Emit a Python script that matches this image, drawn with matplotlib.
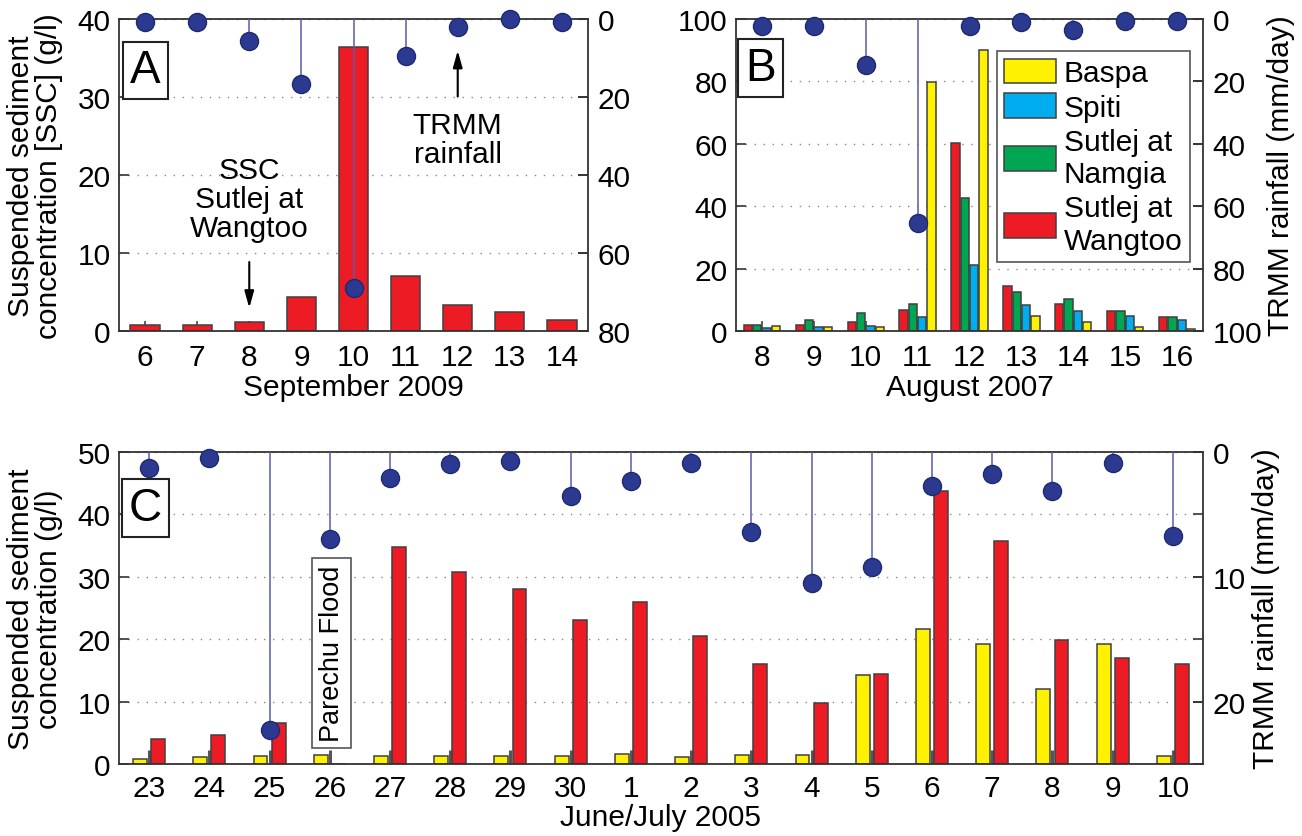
import numpy as np
import matplotlib
matplotlib.use("Agg")
import matplotlib.pyplot as plt

plt.rcParams['font.family'] = ['Liberation Sans', 'DejaVu Sans']

# ---- data: panel A (September 2009) ----
a_days = [6, 7, 8, 9, 10, 11, 12, 13, 14]
a_ssc = [0.8, 0.8, 1.2, 4.4, 36.4, 7.0, 3.3, 2.5, 1.4]
a_rain = [0.7, 0.7, 5.6, 16.7, 69.0, 9.4, 2.1, 0.0, 0.7]

# ---- data: panel B (August 2007) ----
b_days = [8, 9, 10, 11, 12, 13, 14, 15, 16]
b_wangtoo = [1.8, 2.0, 2.9, 6.8, 60.1, 14.4, 8.6, 6.3, 4.5]
b_namgia = [2.0, 3.5, 5.8, 8.6, 42.5, 12.6, 10.2, 6.3, 4.5]
b_spiti = [1.1, 1.4, 1.7, 4.6, 21.0, 8.3, 6.4, 4.7, 3.6]
b_baspa = [1.6, 1.4, 1.4, 79.9, 90.1, 4.9, 3.0, 1.3, 0.7]
b_rain = [2.1, 2.1, 14.8, 65.5, 2.4, 1.1, 3.4, 0.5, 0.6]

# ---- data: panel C (June/July 2005) ----
c_labels = ['23', '24', '25', '26', '27', '28', '29', '30', '1', '2',
            '3', '4', '5', '6', '7', '8', '9', '10']
c_baspa = [0.8, 1.2, 1.3, 1.4, 1.3, 1.3, 1.3, 1.3, 1.6, 1.2,
           1.4, 1.5, 14.2, 21.6, 19.2, 12.0, 19.2, 1.3]
c_wangtoo = [4.0, 4.7, 6.5, 0.0, 34.7, 30.8, 28.1, 23.0, 25.9, 20.5,
             16.0, 9.8, 14.4, 43.7, 35.8, 19.9, 17.0, 16.0]
c_rain = [1.3, 0.5, 22.3, 7.0, 2.1, 1.0, 0.7, 3.5, 2.3, 0.9,
          6.4, 10.5, 9.2, 2.75, 1.8, 3.1, 0.9, 6.7]

RED = '#ed1c24'
YEL = '#fff200'
BLU = '#00aeef'
GRN = '#00a651'
EDGE = '#404040'
DOT = '#2b3990'
STEM = '#5b5bb0'
FS = 21.5

fig = plt.figure(figsize=(13.02, 8.37), dpi=100)
W, H = 1302.0, 837.0


def make_axes(l, t, r, b):
    return fig.add_axes([l / W, 1 - b / H, (r - l) / W, (b - t) / H])


def style(ax, ax2):
    ax.set_axisbelow(True)
    ax.yaxis.grid(True, linestyle=(0, (1, 5.5)), color='#888888', lw=1)
    for sp in ax.spines.values():
        sp.set_color('#333333')
        sp.set_linewidth(1.3)
    for sp in ax2.spines.values():
        sp.set_visible(False)
    ax.tick_params(axis='x', direction='in', length=7, width=1.3,
                   color='#555555', labelsize=FS, pad=9)
    ax.tick_params(axis='y', direction='in', length=7, width=1.2,
                   color='#333333', labelsize=FS, pad=6, right=True)
    ax2.tick_params(axis='y', direction='in', length=7, width=1.2,
                    color='#333333', labelsize=FS, pad=7)
    ax2.tick_params(axis='x', bottom=False, labelbottom=False)


def rain(ax2, x, vals):
    ax2.vlines(x, 0, vals, color=STEM, lw=1.1, zorder=3)
    ax2.plot(x, vals, 'o', ms=13, mfc=DOT, mec='#1e2a70', mew=1,
             clip_on=False, zorder=4)


def panel_label(ax, x, y, s):
    ax.text(x, y, s, transform=ax.transAxes, fontsize=33, ha='center',
            va='center', zorder=6,
            bbox=dict(boxstyle='square,pad=0.15', fc='white',
                      ec='#222222', lw=1.5))


def arrow(ax, x, y0, y1):
    ax.annotate('', xy=(x, y1), xytext=(x, y0),
                arrowprops=dict(arrowstyle='-|>,head_length=1.0,head_width=0.28',
                                color='black', lw=1.5), zorder=5)


bar_kw = dict(edgecolor=EDGE, linewidth=1.1)

# ---------------- panel A ----------------
axA = make_axes(119, 20, 588, 332)
axA.bar(a_days, a_ssc, width=0.56, color=RED, **bar_kw)
axA.set_xlim(5.5, 14.5)
axA.set_ylim(0, 40)
axA.set_xticks(a_days)
axA.set_yticks([0, 10, 20, 30, 40])
axA.set_xlabel('September 2009', fontsize=FS, labelpad=1)
axA2 = axA.twinx()
rain(axA2, a_days, a_rain)
axA2.set_ylim(80, 0)
axA2.set_yticks([0, 20, 40, 60, 80])
style(axA, axA2)
panel_label(axA, 0.0565, 0.835, 'A')
arrow(axA, 8, 9.2, 2.6)
axA.text(8, 16.9, 'SSC\nSutlej at\nWangtoo', fontsize=FS, ha='center',
         va='center', linespacing=1.05, zorder=5)
arrow(axA, 12, 29.7, 36.3)
axA.text(12, 24.6, 'TRMM\nrainfall', fontsize=FS, ha='center',
         va='center', linespacing=1.05, zorder=5)
fig.text(35 / W, 1 - 176 / H,
         'Suspended sediment\nconcentration [SSC] (g/l)',
         rotation=90, ha='center', va='center', fontsize=FS, linespacing=1.0)

# ---------------- panel B ----------------
axB = make_axes(736, 20, 1203, 332)
bx = np.array(b_days, dtype=float)
bw = 0.16
hB = axB.bar(bx + 0.27, b_baspa, width=bw, color=YEL, label='Baspa', **bar_kw)
hS = axB.bar(bx + 0.09, b_spiti, width=bw, color=BLU, label='Spiti', **bar_kw)
hN = axB.bar(bx - 0.09, b_namgia, width=bw, color=GRN,
             label='Sutlej at\nNamgia', **bar_kw)
hW = axB.bar(bx - 0.27, b_wangtoo, width=bw, color=RED,
             label='Sutlej at\nWangtoo', **bar_kw)
axB.set_xlim(7.5, 16.5)
axB.set_ylim(0, 100)
axB.set_xticks(b_days)
axB.set_yticks([0, 20, 40, 60, 80, 100])
axB.set_xlabel('August 2007', fontsize=FS, labelpad=1)
axB2 = axB.twinx()
rain(axB2, b_days, b_rain)
axB2.set_ylim(100, 0)
axB2.set_yticks([0, 20, 40, 60, 80, 100])
style(axB, axB2)
panel_label(axB, 0.0525, 0.843, 'B')
leg = axB2.legend(handles=[hB, hS, hN, hW], loc='upper right',
                  bbox_to_anchor=(0.972, 0.897), borderaxespad=0,
                  fontsize=FS, fancybox=False, framealpha=1,
                  edgecolor='#555555', handlelength=1.75, handleheight=0.9,
                  handletextpad=0.25, labelspacing=0.2, borderpad=0.25)
leg.get_frame().set_linewidth(1.2)
leg.set_zorder(10)
fig.text(1281 / W, 1 - 176 / H, 'TRMM rainfall (mm/day)', rotation=90,
         ha='center', va='center', fontsize=FS)

# ---------------- panel C ----------------
axC = make_axes(119, 453, 1203, 765)
cx = np.arange(len(c_labels))
axC.bar(cx - 0.15, c_baspa, width=0.23, color=YEL, **bar_kw)
axC.bar(cx + 0.15, c_wangtoo, width=0.23, color=RED, **bar_kw)
axC.set_xlim(-0.5, len(c_labels) - 0.5)
axC.set_ylim(0, 50)
axC.set_xticks(cx)
axC.set_xticklabels(c_labels)
axC.set_yticks([0, 10, 20, 30, 40, 50])
axC.set_xlabel('June/July 2005', fontsize=FS, labelpad=1)
axC2 = axC.twinx()
rain(axC2, cx, c_rain)
axC2.set_ylim(25, 0)
axC2.set_yticks([0, 10, 20])
style(axC, axC2)
axC.tick_params(axis='x', length=10, width=2.2, pad=7)
panel_label(axC, 0.0244, 0.82, 'C')
axC.text(3.03, 17.8, 'Parechu Flood', rotation=90, fontsize=19.5,
         ha='center', va='center', zorder=6,
         bbox=dict(boxstyle='square,pad=0.25', fc='white', ec='#555555',
                   lw=1.2))
fig.text(35 / W, 1 - 609 / H, 'Suspended sediment\nconcentration (g/l)',
         rotation=90, ha='center', va='center', fontsize=FS, linespacing=1.0)
fig.text(1266 / W, 1 - 609 / H, 'TRMM rainfall (mm/day)', rotation=90,
         ha='center', va='center', fontsize=FS)

fig.savefig('out.png', dpi=100)
